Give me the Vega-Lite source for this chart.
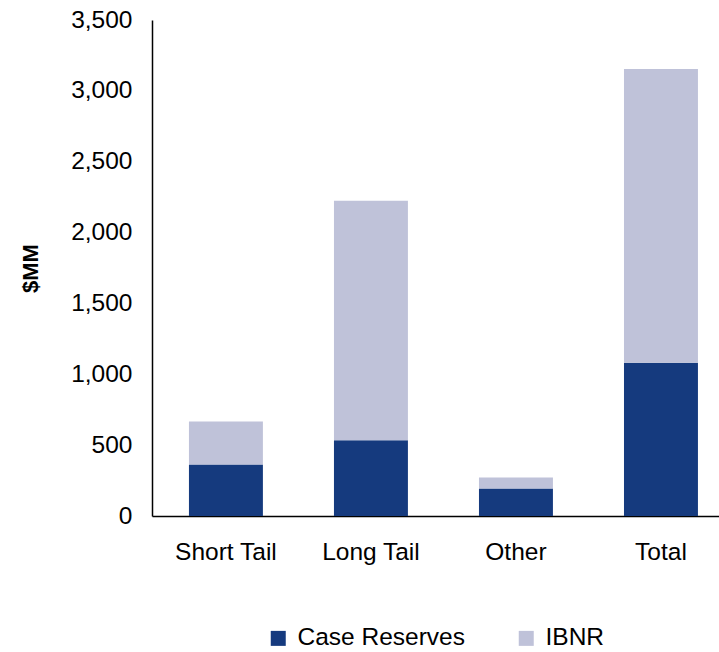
{
  "$schema": "https://vega.github.io/schema/vega-lite/v6.json",
  "width": 567,
  "height": 496,
  "autosize": {"type": "none"},
  "padding": {"left": 152, "top": 20, "right": 0, "bottom": 136},
  "background": "white",
  "config": {
    "view": {"stroke": null},
    "font": "Liberation Sans",
    "axis": {"labelFont": "Liberation Sans", "titleFont": "Liberation Sans"},
    "legend": {"labelFont": "Liberation Sans"}
  },
  "data": {
    "values": [
      {"category": "Short Tail", "type": "Case Reserves", "value": 363, "ord": 1},
      {"category": "Short Tail", "type": "IBNR", "value": 303, "ord": 2},
      {"category": "Long Tail", "type": "Case Reserves", "value": 534, "ord": 1},
      {"category": "Long Tail", "type": "IBNR", "value": 1690, "ord": 2},
      {"category": "Other", "type": "Case Reserves", "value": 194, "ord": 1},
      {"category": "Other", "type": "IBNR", "value": 77, "ord": 2},
      {"category": "Total", "type": "Case Reserves", "value": 1082, "ord": 1},
      {"category": "Total", "type": "IBNR", "value": 2073, "ord": 2}
    ]
  },
  "mark": {"type": "bar"},
  "encoding": {
    "x": {
      "field": "category",
      "type": "nominal",
      "sort": ["Short Tail", "Long Tail", "Other", "Total"],
      "scale": {"paddingInner": 0.49, "paddingOuter": 0.2, "align": 0.637},
      "axis": {
        "title": null,
        "labelAngle": 0,
        "labelFontSize": 24.5,
        "labelColor": "black",
        "labelPadding": 24,
        "ticks": false,
        "domainColor": "black",
        "domainWidth": 1.5
      }
    },
    "y": {
      "field": "value",
      "type": "quantitative",
      "stack": "zero",
      "scale": {"domain": [0, 3500], "nice": false},
      "axis": {
        "title": "$MM",
        "titleFontSize": 22,
        "titleFontWeight": "bold",
        "titleColor": "black",
        "titlePadding": 28,
        "values": [0, 500, 1000, 1500, 2000, 2500, 3000, 3500],
        "format": ",d",
        "labelFontSize": 24.5,
        "labelColor": "black",
        "labelPadding": 20,
        "ticks": false,
        "grid": false,
        "domainColor": "black",
        "domainWidth": 1.5
      }
    },
    "color": {
      "field": "type",
      "type": "nominal",
      "scale": {"domain": ["Case Reserves", "IBNR"], "range": ["#153A7E", "#BFC2D9"]},
      "legend": {
        "title": null,
        "orient": "none",
        "direction": "horizontal",
        "legendX": 114,
        "legendY": 606,
        "symbolType": "square",
        "symbolSize": 225,
        "symbolStrokeWidth": 0,
        "labelFontSize": 24.5,
        "labelLimit": 400,
        "labelColor": "black",
        "labelOffset": 7,
        "columnPadding": 49
      }
    },
    "order": {"field": "ord", "type": "quantitative"}
  }
}
